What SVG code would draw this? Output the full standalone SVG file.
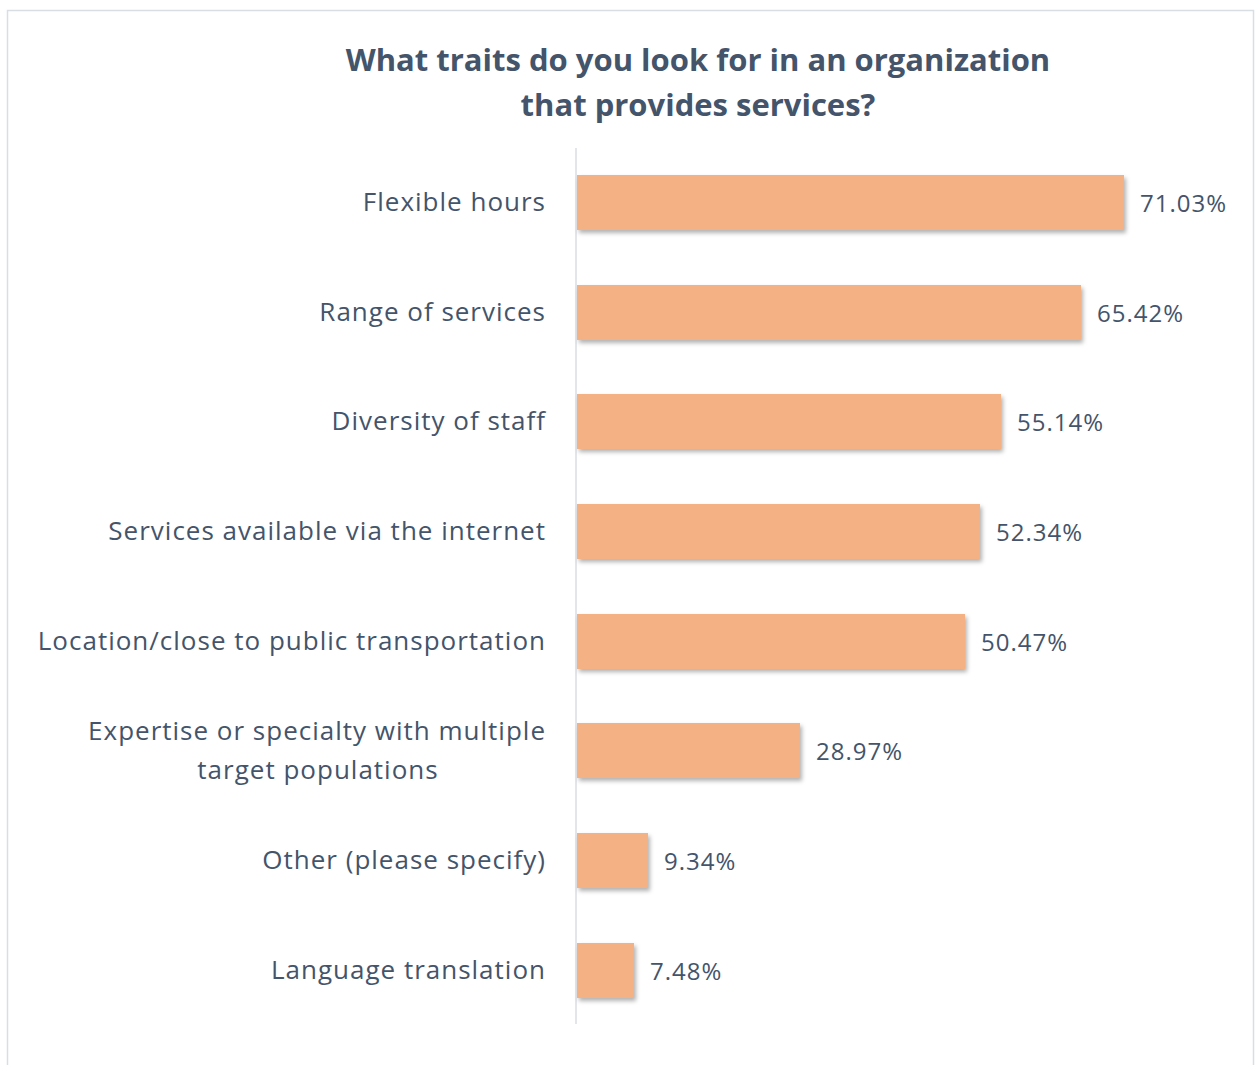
<svg xmlns="http://www.w3.org/2000/svg" width="1257" height="1065" viewBox="0 0 1257 1065">
<style>
.lbl{font-family:"Open Sans","Noto Sans",sans-serif;font-size:26px;letter-spacing:1px;fill:#44546A;text-anchor:end}
.val{font-family:"Open Sans","Noto Sans",sans-serif;font-size:24px;letter-spacing:1px;fill:#44546A}
.ttl{font-family:"Open Sans","Noto Sans",sans-serif;font-size:31px;font-weight:bold;fill:#44546A;text-anchor:middle}
.bar{fill:#F4B183;filter:url(#sh)}
</style>
<defs>
<filter id="sh" x="-10%" y="-20%" width="130%" height="150%">
<feDropShadow dx="2" dy="3" stdDeviation="2" flood-color="#000" flood-opacity="0.3"/>
</filter>
</defs>
<rect x="0" y="0" width="1257" height="1065" fill="#fff"/>
<rect x="7.5" y="10.5" width="1246" height="1070" fill="#fff" stroke="#D9DEE5" stroke-width="1.5"/>
<g id="title">
<text class="ttl" x="698" y="71">What traits do you look for in an organization</text>
<text class="ttl" x="698" y="116">that provides services?</text>
</g>
<g id="axis"><line x1="576" y1="148" x2="576" y2="1024" stroke="#D9DEE5" stroke-width="1.5"/></g>
<g id="bar1"><rect class="bar" x="577" y="175" width="547" height="55"/><text class="lbl" x="546" y="211">Flexible hours</text><text class="val" x="1140" y="212">71.03%</text></g>
<g id="bar2"><rect class="bar" x="577" y="285" width="504" height="55"/><text class="lbl" x="546" y="321">Range of services</text><text class="val" x="1097" y="322">65.42%</text></g>
<g id="bar3"><rect class="bar" x="577" y="394" width="424" height="55"/><text class="lbl" x="546" y="430">Diversity of staff</text><text class="val" x="1017" y="431">55.14%</text></g>
<g id="bar4"><rect class="bar" x="577" y="504" width="403" height="55"/><text class="lbl" x="546" y="540">Services available via the internet</text><text class="val" x="996" y="541">52.34%</text></g>
<g id="bar5"><rect class="bar" x="577" y="614" width="388" height="55"/><text class="lbl" x="546" y="650">Location/close to public transportation</text><text class="val" x="981" y="651">50.47%</text></g>
<g id="bar6"><rect class="bar" x="577" y="723" width="223" height="55"/><text class="lbl" x="546" y="740">Expertise or specialty with multiple</text><text class="lbl" x="318" y="779" style="text-anchor:middle">target populations</text><text class="val" x="816" y="760">28.97%</text></g>
<g id="bar7"><rect class="bar" x="577" y="833" width="71" height="55"/><text class="lbl" x="546" y="869">Other (please specify)</text><text class="val" x="664" y="870">9.34%</text></g>
<g id="bar8"><rect class="bar" x="577" y="943" width="57" height="55"/><text class="lbl" x="546" y="979">Language translation</text><text class="val" x="650" y="980">7.48%</text></g>
</svg>
